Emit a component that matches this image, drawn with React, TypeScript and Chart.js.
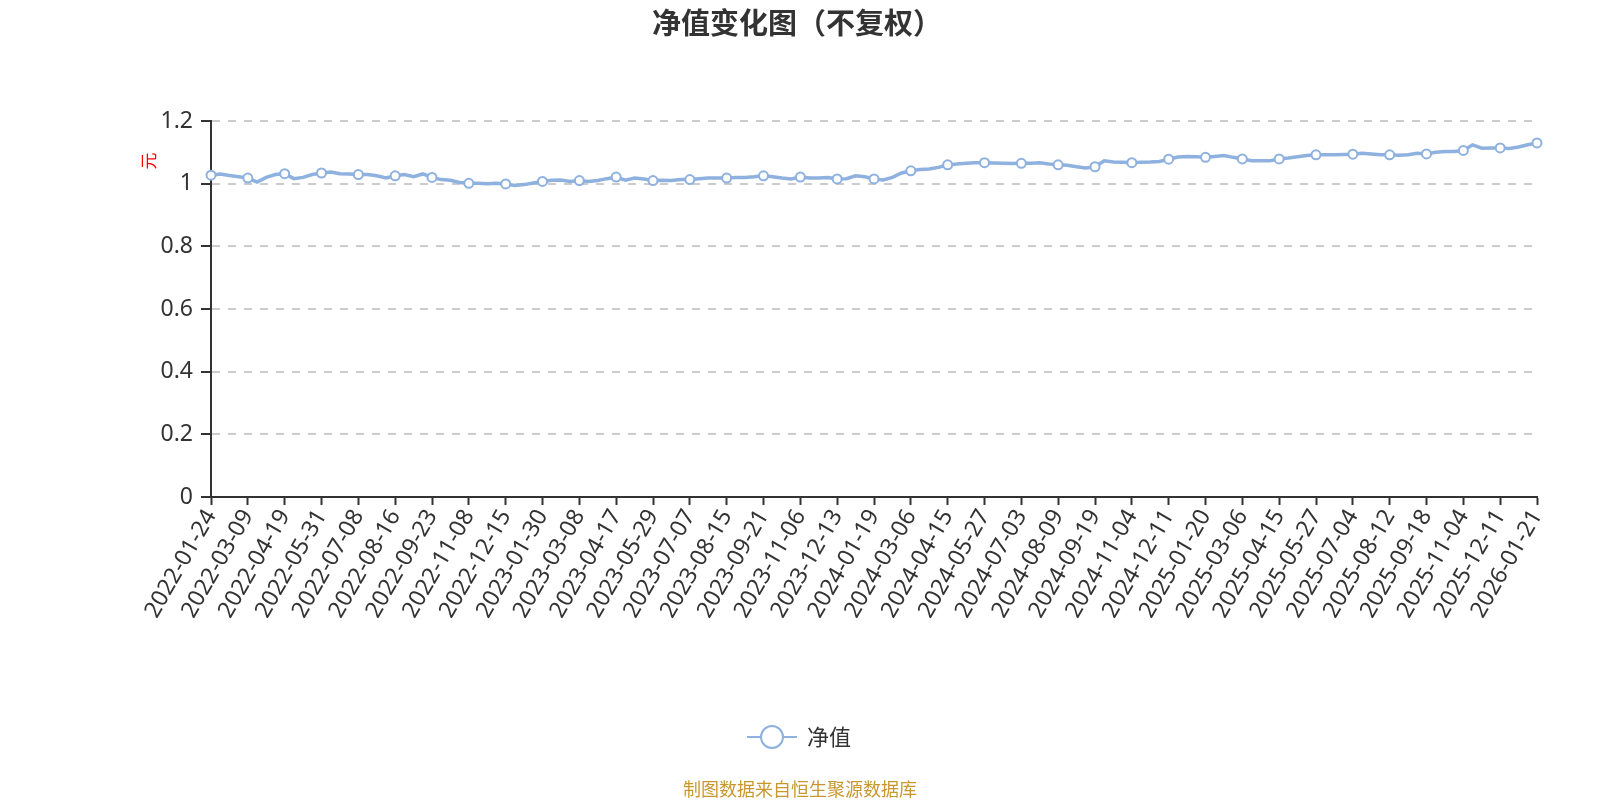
import { useEffect, useRef } from 'react'
import { Chart, registerables } from 'chart.js'

Chart.register(...registerables)

// labelled dates on the x axis (one every STEP points)
const tickDates = [
  '2022-01-24', '2022-03-09', '2022-04-19', '2022-05-31', '2022-07-08', '2022-08-16',
  '2022-09-23', '2022-11-08', '2022-12-15', '2023-01-30', '2023-03-08', '2023-04-17',
  '2023-05-29', '2023-07-07', '2023-08-15', '2023-09-21', '2023-11-06', '2023-12-13',
  '2024-01-19', '2024-03-06', '2024-04-15', '2024-05-27', '2024-07-03', '2024-08-09',
  '2024-09-19', '2024-11-04', '2024-12-11', '2025-01-20', '2025-03-06', '2025-04-15',
  '2025-05-27', '2025-07-04', '2025-08-12', '2025-09-18', '2025-11-04', '2025-12-11',
  '2026-01-21',
]

const STEP = 4

// net value (first value of each row sits on a labelled date)
const navValues = [
  1.027, 1.031, 1.026, 1.022,
  1.018, 1.005, 1.020, 1.029,
  1.032, 1.016, 1.020, 1.029,
  1.034, 1.037, 1.032, 1.031,
  1.029, 1.029, 1.025, 1.018,
  1.025, 1.029, 1.022, 1.031,
  1.020, 1.013, 1.011, 1.004,
  1.001, 1.001, 1.000, 1.001,
  0.999, 0.994, 0.997, 1.002,
  1.007, 1.011, 1.012, 1.007,
  1.010, 1.007, 1.010, 1.016,
  1.021, 1.011, 1.018, 1.015,
  1.010, 1.011, 1.010, 1.013,
  1.013, 1.016, 1.018, 1.018,
  1.018, 1.020, 1.020, 1.022,
  1.025, 1.022, 1.018, 1.015,
  1.021, 1.018, 1.018, 1.020,
  1.015, 1.016, 1.025, 1.022,
  1.015, 1.012, 1.020, 1.034,
  1.041, 1.045, 1.047, 1.052,
  1.060, 1.063, 1.065, 1.067,
  1.067, 1.066, 1.065, 1.064,
  1.065, 1.065, 1.067, 1.063,
  1.060, 1.059, 1.054, 1.050,
  1.054, 1.073, 1.069, 1.068,
  1.067, 1.068, 1.069, 1.071,
  1.078, 1.085, 1.087, 1.086,
  1.084, 1.087, 1.090, 1.084,
  1.079, 1.073, 1.073, 1.073,
  1.079, 1.082, 1.086, 1.090,
  1.092, 1.092, 1.092, 1.093,
  1.094, 1.097, 1.095, 1.092,
  1.092, 1.091, 1.092, 1.097,
  1.095, 1.100, 1.103, 1.103,
  1.106, 1.124, 1.113, 1.114,
  1.114, 1.112, 1.117, 1.124,
  1.130,
]

const LINE_COLOR = '#8eb1df'
const FONT = '"Noto Sans CJK SC", "Noto Sans", sans-serif'
const NUM_FONT = '"Noto Sans", "Noto Sans CJK SC", sans-serif'

const decorPlugin = {
  id: 'decor',
  afterDraw(chart: Chart) {
    const { ctx } = chart
    ctx.save()
    ctx.textAlign = 'center'
    ctx.textBaseline = 'middle'

    // title
    ctx.fillStyle = '#333'
    ctx.font = `bold 29px ${FONT}`
    ctx.fillText('净值变化图（不复权）', 797, 23)

    // y unit
    ctx.save()
    ctx.translate(149, 161)
    ctx.rotate(-Math.PI / 2)
    ctx.fillStyle = '#ff0000'
    ctx.font = `17px ${FONT}`
    ctx.fillText('元', 0, 0)
    ctx.restore()

    // legend
    ctx.strokeStyle = LINE_COLOR
    ctx.lineWidth = 2
    ctx.beginPath()
    ctx.moveTo(747, 737)
    ctx.lineTo(797, 737)
    ctx.stroke()
    ctx.beginPath()
    ctx.arc(772, 737, 11, 0, Math.PI * 2)
    ctx.fillStyle = '#fff'
    ctx.fill()
    ctx.stroke()
    ctx.fillStyle = '#333'
    ctx.font = `22px ${FONT}`
    ctx.textAlign = 'left'
    ctx.fillText('净值', 807, 737)

    // source note
    ctx.textAlign = 'center'
    ctx.fillStyle = '#c8982e'
    ctx.font = `18px ${FONT}`
    ctx.fillText('制图数据来自恒生聚源数据库', 800, 789)
    ctx.restore()
  },
}

export default function App() {
  const canvasRef = useRef<HTMLCanvasElement>(null)
  const chartRef = useRef<Chart | null>(null)

  useEffect(() => {
    if (!canvasRef.current) return
    if (chartRef.current) chartRef.current.destroy()

    const labels = navValues.map((_, i) => (i % STEP === 0 ? tickDates[i / STEP] : ''))

    chartRef.current = new Chart(canvasRef.current, {
      type: 'line',
      data: {
        labels,
        datasets: [
          {
            label: '净值',
            data: navValues,
            borderColor: LINE_COLOR,
            backgroundColor: '#fff',
            borderWidth: 3.5,
            tension: 0,
            pointRadius: (c: any) => (c.dataIndex % STEP === 0 ? 4.5 : 0),
            pointHoverRadius: (c: any) => (c.dataIndex % STEP === 0 ? 5.5 : 0),
            pointBackgroundColor: '#fff',
            pointBorderColor: LINE_COLOR,
            pointBorderWidth: 2,
          },
        ],
      },
      plugins: [decorPlugin],
      options: {
        animation: false,
        responsive: true,
        maintainAspectRatio: false,
        layout: { padding: { left: 151, right: 63, top: 121, bottom: 133 } },
        plugins: {
          legend: { display: false },
          title: { display: false },
        },
        scales: {
          x: {
            offset: false,
            grid: {
              drawOnChartArea: false,
              tickLength: 8,
              tickWidth: 2,
              tickColor: (c: any) => (c.index % STEP === 0 ? '#333' : 'rgba(0,0,0,0)'),
            },
            border: { display: true, color: '#333', width: 2 },
            ticks: {
              autoSkip: false,
              maxRotation: 60,
              minRotation: 60,
              padding: 0,
              color: '#333',
              font: { size: 23, family: NUM_FONT },
            },
            afterFit: (s: any) => {
              s.height = 170
            },
          },
          y: {
            min: 0,
            max: 1.2,
            grid: {
              color: (c: any) => (c.tick && c.tick.value === 0 ? 'rgba(0,0,0,0)' : '#cccccc'),
              lineWidth: 2,
              tickLength: 10,
              tickWidth: 2,
              tickColor: '#333',
              tickBorderDash: [],
            },
            border: { display: true, color: '#333', width: 2, dash: [8, 8] },
            ticks: {
              stepSize: 0.2,
              padding: 8,
              color: '#333',
              font: { size: 23, family: NUM_FONT },
              callback: (v: any) => String(Number(Number(v).toFixed(1))),
            },
            afterFit: (s: any) => {
              s.width = 60
            },
          },
        },
      },
    })

    return () => {
      if (chartRef.current) {
        chartRef.current.destroy()
        chartRef.current = null
      }
    }
  }, [])

  return (
    <div style={{ position: 'fixed', left: 0, top: 0, width: 1600, height: 800, background: '#fff' }}>
      <canvas ref={canvasRef} />
    </div>
  )
}
